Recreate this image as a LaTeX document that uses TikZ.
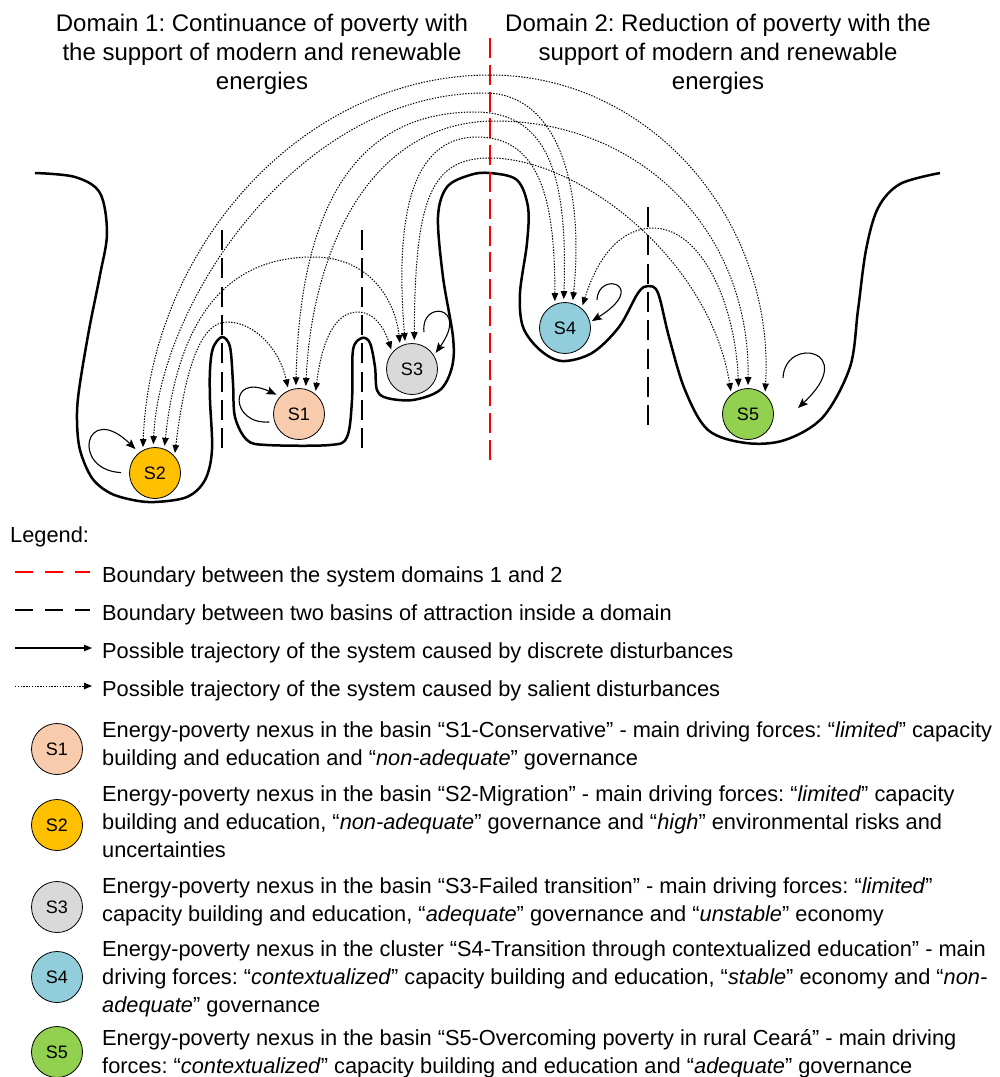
\documentclass[tikz,border=0pt]{standalone}
\usepackage{fontspec}
\setmainfont{Liberation Sans}
\usetikzlibrary{arrows.meta}
\definecolor{cSa}{HTML}{F8CBAD}
\definecolor{cSb}{HTML}{FFC000}
\definecolor{cSc}{HTML}{D9D9D9}
\definecolor{cSd}{HTML}{92CDDC}
\definecolor{cSe}{HTML}{92D050}
\definecolor{dred}{HTML}{FF0000}
\frenchspacing
\begin{document}
\begin{tikzpicture}[x=1pt,y=-1pt,
  state/.style={circle,draw,line width=0.8pt,minimum size=51pt,inner sep=0pt,font=\fontsize{18}{18}\selectfont},
  salient/.style={line width=1pt,dash pattern=on 1.4pt off 1.4pt,{Triangle[length=8pt,width=6.5pt]}-{Triangle[length=8pt,width=6.5pt]},shorten <=3pt,shorten >=3pt},
  salientleg/.style={line width=1pt,dash pattern=on 1.4pt off 1.4pt,-{Triangle[length=8pt,width=6.5pt]}},
  discrete/.style={line width=1.1pt,-{Stealth[length=10pt,width=8pt,inset=2pt]}},
  discreteleg/.style={line width=1.1pt,-{Triangle[length=8pt,width=6.5pt]}},
  landscape/.style={line width=2.5pt,line join=round},
  basinline/.style={line width=2pt,dash pattern=on 20pt off 8.3pt},
  domainline/.style={line width=2pt,dred,dash pattern=on 20pt off 6.8pt},
  basinleg/.style={line width=2pt,dash pattern=on 18pt off 12pt},
  domainleg/.style={line width=2pt,dred,dash pattern=on 18pt off 12pt},
  titletext/.style={font=\fontsize{24}{29}\selectfont,anchor=base,inner sep=0pt},
  legtext/.style={font=\fontsize{21.8}{28}\selectfont,anchor=base west,inner sep=0pt},
]
\useasboundingbox (0,0) rectangle (1000,1077);

% titles
\node[titletext] (d1a) at (262,31) {Domain 1: Continuance of poverty with};
\node[titletext] (d1b) at (262,60) {the support of modern and renewable};
\node[titletext] (d1c) at (262,89) {energies};
\node[titletext] (d2a) at (718,31) {Domain 2: Reduction of poverty with the};
\node[titletext] (d2b) at (718,60) {support of modern and renewable};
\node[titletext] (d2c) at (718,89) {energies};

% landscape
\draw[landscape] plot[smooth,tension=0.55] coordinates {
 (35,173) (75,177) (100,193) (107,233) (100,275) (89,330) (79,390) (77,420) (80,450) (92,478) (110,493) (133,500) (155,502)
 (187,497) (205,480) (212,450) (210,400) (210,370) (213,348) (222,337) (230,347) (233,383) (235,417) (247,440) (267,445)
 (330,445) (347,437) (352,400) (353,350) (362,338) (370,343) (375,367) (377,390) (387,398) (413,400) (440,390) (452,367)
 (453,337) (443,277) (438,217) (447,187) (470,175) (490,173) (517,180) (528,207) (527,243) (520,293) (523,327) (540,350)
 (562,361) (592,353) (619,327) (638,293) (648,286) (658,293) (669,337) (685,390) (708,430) (746,443) (785,440) (823,417)
 (850,367) (858,310) (866,250) (878,208) (900,184) (940,173)};

% boundaries
\coordinate (rtop) at (490,38);
\coordinate (rbot) at (490,460);
\coordinate (b1top) at (222,230);
\coordinate (b1bot) at (222,448);
\coordinate (b2top) at (362,230);
\coordinate (b2bot) at (362,448);
\coordinate (b3top) at (648,207);
\coordinate (b3bot) at (648,425);
\draw[basinline] (b1top) -- (b1bot);
\draw[basinline] (b2top) -- (b2bot);
\draw[basinline] (b3top) -- (b3bot);
\draw[domainline] (rtop) -- (rbot);

% states
\node[state,fill=cSa] (S1) at (299,414) {S1};
\node[state,fill=cSb] (S2) at (155,473) {S2};
\node[state,fill=cSc] (S3) at (412,369) {S3};
\node[state,fill=cSd] (S4) at (565,328) {S4};
\node[state,fill=cSe] (S5) at (748,414) {S5};

% salient disturbances
\draw[salient] (S2.118) .. controls (150,250) and (300,75) .. (490,75) .. controls (650,75) and (775,220) .. (S5.49);
\draw[salient] (S2.94) .. controls (160,300) and (300,93) .. (485,93) .. controls (555,93) and (585,180) .. (S4.73);
\draw[salient] (S1.97) .. controls (300,200) and (360,112) .. (475,112) .. controls (548,112) and (568,175) .. (S4.93);
\draw[salient] (S1.75) .. controls (312,250) and (370,121) .. (495,121) .. controls (640,121) and (750,230) .. (S5.90);
\draw[salient] (S3.105) .. controls (395,220) and (410,137) .. (477,137) .. controls (540,137) and (555,200) .. (S4.113);
\draw[salient] (S3.85) .. controls (415,200) and (430,158) .. (490,158) .. controls (580,158) and (710,260) .. (S5.130);
\draw[salient] (S2.69) .. controls (180,300) and (240,257) .. (313,257) .. controls (370,257) and (395,300) .. (S3.117);
\draw[salient] (S2.41) .. controls (185,370) and (200,322) .. (227,322) .. controls (255,322) and (280,350) .. (S1.114);
\draw[salient] (S1.51) .. controls (322,340) and (335,312) .. (358,312) .. controls (375,312) and (385,330) .. (S3.140);
\draw[salient] (S4.50) .. controls (600,250) and (625,228) .. (653,228) .. controls (700,228) and (735,300) .. (S5.111);

% discrete disturbances (self loops)
\draw[discrete,shorten <=8pt,shorten >=5pt] (S2.180) .. controls (70,470) and (85,400) .. (S2.128);
\draw[discrete,shorten <=5pt,shorten >=4pt] (S1.197) .. controls (230,425) and (228,372) .. (S1.137);
\draw[discrete,shorten >=3pt] ([shift={(12,-37)}]S3.center) .. controls (420,300) and (470,305) .. (S3.32);
\draw[discrete,shorten >=2pt] ([shift={(32,-28)}]S4.center) .. controls (598,270) and (650,285) .. (S4.13);
\draw[discrete] ([shift={(35,-36)}]S5.center) .. controls (785,335) and (860,350) .. ([shift={(50,-6)}]S5.center);

% legend
\node[legtext] (leg) at (10,542) {Legend:};
\coordinate (la1) at (15,572); \coordinate (la2) at (90,572);
\coordinate (lb1) at (15,610); \coordinate (lb2) at (90,610);
\coordinate (lc1) at (15,648); \coordinate (lc2) at (92,648);
\coordinate (ld1) at (15,686); \coordinate (ld2) at (92,686);
\draw[domainleg] (la1) -- (la2);
\draw[basinleg] (lb1) -- (lb2);
\draw[discreteleg] (lc1) -- (lc2);
\draw[salientleg] (ld1) -- (ld2);
\node[legtext] (lta) at (102,582) {Boundary between the system domains 1 and 2};
\node[legtext] (ltb) at (102,620) {Boundary between two basins of attraction inside a domain};
\node[legtext] (ltc) at (102,658) {Possible trajectory of the system caused by discrete disturbances};
\node[legtext] (ltd) at (102,696) {Possible trajectory of the system caused by salient disturbances};

\node[state,fill=cSa] (L1) at (57,749) {S1};
\node[state,fill=cSb] (L2) at (57,825) {S2};
\node[state,fill=cSc] (L3) at (57,907) {S3};
\node[state,fill=cSd] (L4) at (57,977) {S4};
\node[state,fill=cSe] (L5) at (57,1052) {S5};

\node[legtext] (t1a) at (102,737) {Energy-poverty nexus in the basin “S1-Conservative” - main driving forces: “\textit{limited}” capacity};
\node[legtext] (t1b) at (102,765) {building and education and “\textit{non-adequate}” governance};
\node[legtext] (t2a) at (102,801) {Energy-poverty nexus in the basin “S2-Migration” - main driving forces: “\textit{limited}” capacity};
\node[legtext] (t2b) at (102,829) {building and education, “\textit{non-adequate}” governance and “\textit{high}” environmental risks and};
\node[legtext] (t2c) at (102,857) {uncertainties};
\node[legtext] (t3a) at (102,893) {Energy-poverty nexus in the basin “S3-Failed transition” - main driving forces: “\textit{limited}”};
\node[legtext] (t3b) at (102,921) {capacity building and education, “\textit{adequate}” governance and “\textit{unstable}” economy};
\node[legtext] (t4a) at (102,956) {Energy-poverty nexus in the cluster “S4-Transition through contextualized education” - main};
\node[legtext] (t4b) at (102,984) {driving forces: “\textit{contextualized}” capacity building and education, “\textit{stable}” economy and “\textit{non-}};
\node[legtext] (t4c) at (102,1012) {\textit{adequate}” governance};
\node[legtext] (t5a) at (102,1045) {Energy-poverty nexus in the basin “S5-Overcoming poverty in rural Ceará” - main driving};
\node[legtext] (t5b) at (102,1073) {forces: “\textit{contextualized}” capacity building and education and “\textit{adequate}” governance};
\end{tikzpicture}
\end{document}
